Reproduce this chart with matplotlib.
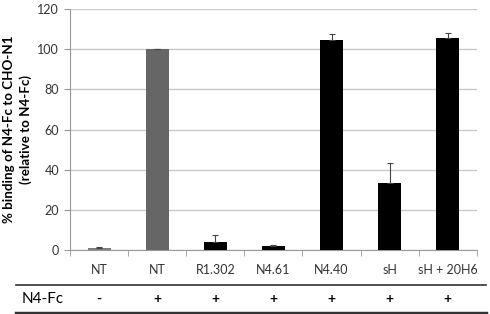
import matplotlib
matplotlib.use("Agg")
import matplotlib.pyplot as plt
from matplotlib.lines import Line2D
import numpy as np

plt.rcParams['font.family'] = ['Lato', 'DejaVu Sans']

categories = ['NT', 'NT', 'R1.302', 'N4.61', 'N4.40', 'sH', 'sH + 20H6']
values = [0.8, 100.0, 4.0, 2.0, 104.5, 33.5, 105.6]
errors = [0.5, 0.0, 3.3, 0.5, 3.0, 9.7, 2.3]
colors = ['#7f7f7f', '#666666', 'black', 'black', 'black', 'black', 'black']
n4fc = ['-', '+', '+', '+', '+', '+', '+']

fig = plt.figure(figsize=(4.9, 3.14), dpi=100)
ax = fig.add_axes([0.143, 0.204, 0.83, 0.767])

x = np.arange(len(categories))
ax.bar(x, values, width=0.4, color=colors, zorder=3)
ax.errorbar(x, values, yerr=[np.zeros(len(errors)), errors], fmt='none',
            ecolor='#444444', elinewidth=0.8, capsize=2.5, capthick=0.8, zorder=4)

ax.set_xlim(-0.5, len(categories) - 0.5)
ax.set_ylim(0, 120)
ax.set_yticks(range(0, 121, 20))
ax.yaxis.grid(True, color='#c8c8c8', linewidth=1.0, zorder=0)
ax.set_axisbelow(True)

ax.set_xticks(x)
ax.set_xticklabels(categories, fontsize=9, color='#333333')
ax.set_xticks(np.arange(-0.5, len(categories), 1), minor=True)
ax.tick_params(axis='x', which='major', length=0, pad=10)
ax.tick_params(axis='x', which='minor', length=4, color='#999999', direction='out')
ax.tick_params(axis='y', length=4, color='#999999', labelsize=9, labelcolor='#333333', pad=4)

for s in ['top', 'right']:
    ax.spines[s].set_visible(False)
ax.spines['left'].set_color('#999999')
ax.spines['bottom'].set_color('#999999')

ax.set_ylabel('% binding of N4-Fc to CHO-N1\n(relative to N4-Fc)', fontsize=9.6,
              fontweight='bold', labelpad=4, linespacing=1.35)

# N4-Fc row under the chart
fig.add_artist(Line2D([16 / 490, 486 / 490], [1 - 285 / 314, 1 - 285 / 314],
                      color='#333333', linewidth=1.2))
fig.add_artist(Line2D([16 / 490, 486 / 490], [1 - 313 / 314, 1 - 313 / 314],
                      color='#333333', linewidth=2.5))
fig.text(22 / 490, 1 - 299 / 314, 'N4-Fc', fontsize=11, va='center', ha='left')
for xi, s in zip(x, n4fc):
    xf = fig.transFigure.inverted().transform(ax.transData.transform((xi, 0)))[0]
    fig.text(xf, 1 - 299 / 314, s, fontsize=10, fontweight='bold', va='center', ha='center')

fig.savefig('out.png', dpi=100)
